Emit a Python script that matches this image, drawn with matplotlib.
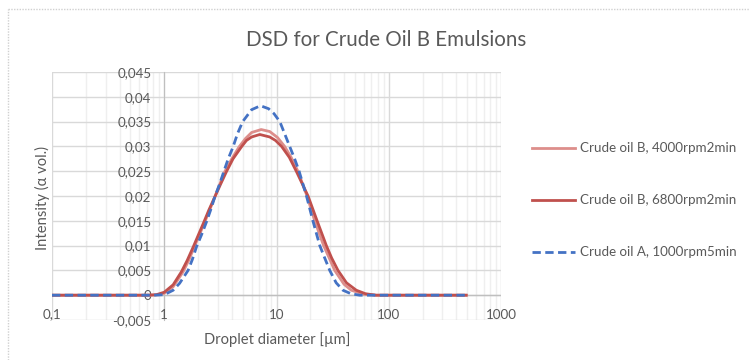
import matplotlib
matplotlib.use("Agg")
import matplotlib.pyplot as plt
from matplotlib.lines import Line2D
from matplotlib.ticker import FixedLocator, LogLocator, NullFormatter

plt.rcParams['font.family'] = ['Lato', 'DejaVu Sans']

# Droplet size distributions (diameter in µm, intensity in volume fraction)
b4000_x = [0.1, 0.5, 0.75, 0.9, 1.0, 1.2, 1.47, 1.65, 1.85, 2.05, 2.3, 2.55,
           2.82, 3.1, 3.46, 4.0, 4.64, 5.3, 6.0, 7.3, 8.7, 10.2, 11.8, 13.5,
           15.5, 18.7, 21.9, 26.3, 29.5, 33.0, 40.0, 46.4, 60.0, 77.0, 150.0,
           490.0]
b4000_y = [0, 0, 0, 0.0001, 0.0004, 0.0017, 0.0047, 0.0070, 0.0097, 0.0121,
           0.0148, 0.0173, 0.0198, 0.0222, 0.0249, 0.0275, 0.0299, 0.0316,
           0.0328, 0.0334, 0.0330, 0.0318, 0.0300, 0.0278, 0.0250, 0.0200,
           0.0150, 0.0100, 0.0075, 0.0050, 0.0022, 0.0010, 0.0002, 0, 0, 0]

b6800_x = [0.1, 0.5, 0.7, 0.85, 1.0, 1.2, 1.42, 1.6, 1.81, 2.0, 2.26, 2.5,
           2.82, 3.15, 3.58, 4.1, 4.87, 5.4, 6.0, 7.1, 8.7, 9.8, 11.1, 13.0,
           15.0, 19.1, 23.0, 27.8, 31.0, 35.3, 42.0, 51.4, 62.0, 77.0, 150.0,
           490.0]
b6800_y = [0, 0, 0, 0.0001, 0.0006, 0.0021, 0.0047, 0.0070, 0.0097, 0.0120,
           0.0148, 0.0172, 0.0198, 0.0222, 0.0249, 0.0275, 0.0299, 0.0312,
           0.0319, 0.0324, 0.0319, 0.0312, 0.0300, 0.0278, 0.0250, 0.0200,
           0.0150, 0.0100, 0.0075, 0.0050, 0.0025, 0.0010, 0.0003, 0, 0, 0]

a1000_x = [0.1, 0.5, 0.8, 1.0, 1.2, 1.37, 1.63, 1.78, 1.94, 2.15, 2.38, 2.6,
           2.82, 3.1, 3.39, 3.7, 4.1, 4.5, 5.0, 6.0, 7.2, 8.5, 9.5, 10.7, 11.8,
           13.1, 14.5, 15.9, 18.5, 21.1, 24.3, 27.0, 29.8, 34.0, 39.1, 46.0,
           55.0, 100.0, 200.0, 490.0]
a1000_y = [0, 0, 0, 0.0001, 0.0010, 0.0024, 0.0050, 0.0072, 0.0098, 0.0122,
           0.0148, 0.0173, 0.0198, 0.0223, 0.0249, 0.0274, 0.0299, 0.0326,
           0.0350, 0.0374, 0.0382, 0.0376, 0.0366, 0.0350, 0.0326, 0.0300,
           0.0275, 0.0250, 0.0200, 0.0150, 0.0100, 0.0074, 0.0050, 0.0025,
           0.0010, 0.0003, 0, 0, 0, 0]

series_labels = ["Crude oil B, 4000rpm2min",
                 "Crude oil B, 6800rpm2min",
                 "Crude oil A, 1000rpm5min"]

x_ticks = [0.1, 1, 10, 100, 1000]
x_tick_labels = ["0,1", "1", "10", "100", "1000"]
y_ticks = [-0.005, 0, 0.005, 0.01, 0.015, 0.02, 0.025, 0.03, 0.035, 0.04, 0.045]
y_tick_labels = ["-0,005", "0", "0,005", "0,01", "0,015", "0,02", "0,025",
                 "0,03", "0,035", "0,04", "0,045"]

TXT = "#595959"
GRID = "#D9D9D9"
MINOR = "#EFEFEF"
C_LIGHT = "#DD8E8B"
C_DARK = "#C0504D"
C_BLUE = "#4472C4"
FS = 9.6
FS_LABEL = 10.6

fig = plt.figure(figsize=(7.5, 3.6), dpi=100)
ax = fig.add_axes([52 / 750, 1 - 320 / 360, (501 - 52) / 750, (320 - 72) / 360])

ax.set_xscale("log")
ax.set_xlim(0.1, 1000)
ax.set_ylim(-0.005, 0.045)

# grid
ax.xaxis.set_minor_locator(LogLocator(base=10, subs=range(2, 10)))
ax.grid(True, which="major", color=GRID, lw=1.0, zorder=0)
ax.grid(True, which="minor", axis="x", color=MINOR, lw=1.0, zorder=0)
ax.set_axisbelow(True)

for s in ("top", "right", "bottom"):
    ax.spines[s].set_visible(False)
ax.spines["left"].set_position(("data", 1))
ax.spines["left"].set_color("#BFBFBF")
ax.axhline(0, color="#BFBFBF", lw=1.0, zorder=1)

ax.yaxis.set_major_locator(FixedLocator(y_ticks))
ax.set_yticklabels(y_tick_labels)
ax.tick_params(axis="y", length=0, pad=9.3, labelsize=FS, labelcolor=TXT)

ax.xaxis.set_major_locator(FixedLocator(x_ticks))
ax.xaxis.set_minor_formatter(NullFormatter())
ax.set_xticklabels([])
ax.tick_params(axis="x", which="both", length=0)
for xv, lab in zip(x_ticks, x_tick_labels):
    ax.text(xv, -0.0039, lab, ha="center", va="center", fontsize=FS,
            color=TXT, zorder=3)

ax.plot(b4000_x, b4000_y, color=C_LIGHT, lw=2.0, zorder=3)
ax.plot(b6800_x, b6800_y, color=C_DARK, lw=2.0, zorder=4)
ax.plot(a1000_x, a1000_y, color=C_BLUE, lw=2.0, ls=(0, (3, 1.6)), zorder=5)

fig.text(386 / 750, 1 - 40 / 360, "DSD for Crude Oil B Emulsions",
         ha="center", va="center", fontsize=14.8, color=TXT)
fig.text(277 / 750, 1 - 340 / 360, "Droplet diameter [µm]",
         ha="center", va="center", fontsize=FS_LABEL, color=TXT)
fig.text(42 / 750, 1 - 198 / 360, "Intensity (α vol.)", rotation=90,
         ha="center", va="center", fontsize=FS_LABEL, color=TXT)

# legend
styles = [dict(color=C_LIGHT, lw=2.0), dict(color=C_DARK, lw=2.0),
          dict(color=C_BLUE, lw=2.0, ls=(0, (3, 1.6)))]
for yy, lab, st in zip([148, 200, 252], series_labels, styles):
    fy = 1 - yy / 360
    fig.add_artist(Line2D([532 / 750, 575 / 750], [fy, fy], **st))
    fig.text(580 / 750, fy, lab, ha="left", va="center", fontsize=FS,
             color=TXT)

# chart border (dotted)
fig.add_artist(Line2D([8 / 750, 1.0], [1 - 9 / 360, 1 - 9 / 360],
                      color="#D0D0D0", lw=1.0, ls=(0, (1, 1))))
fig.add_artist(Line2D([8 / 750, 8 / 750], [0.0, 1 - 9 / 360],
                      color="#D0D0D0", lw=1.0, ls=(0, (1, 1))))

fig.savefig("out.png", dpi=100, facecolor="white")
